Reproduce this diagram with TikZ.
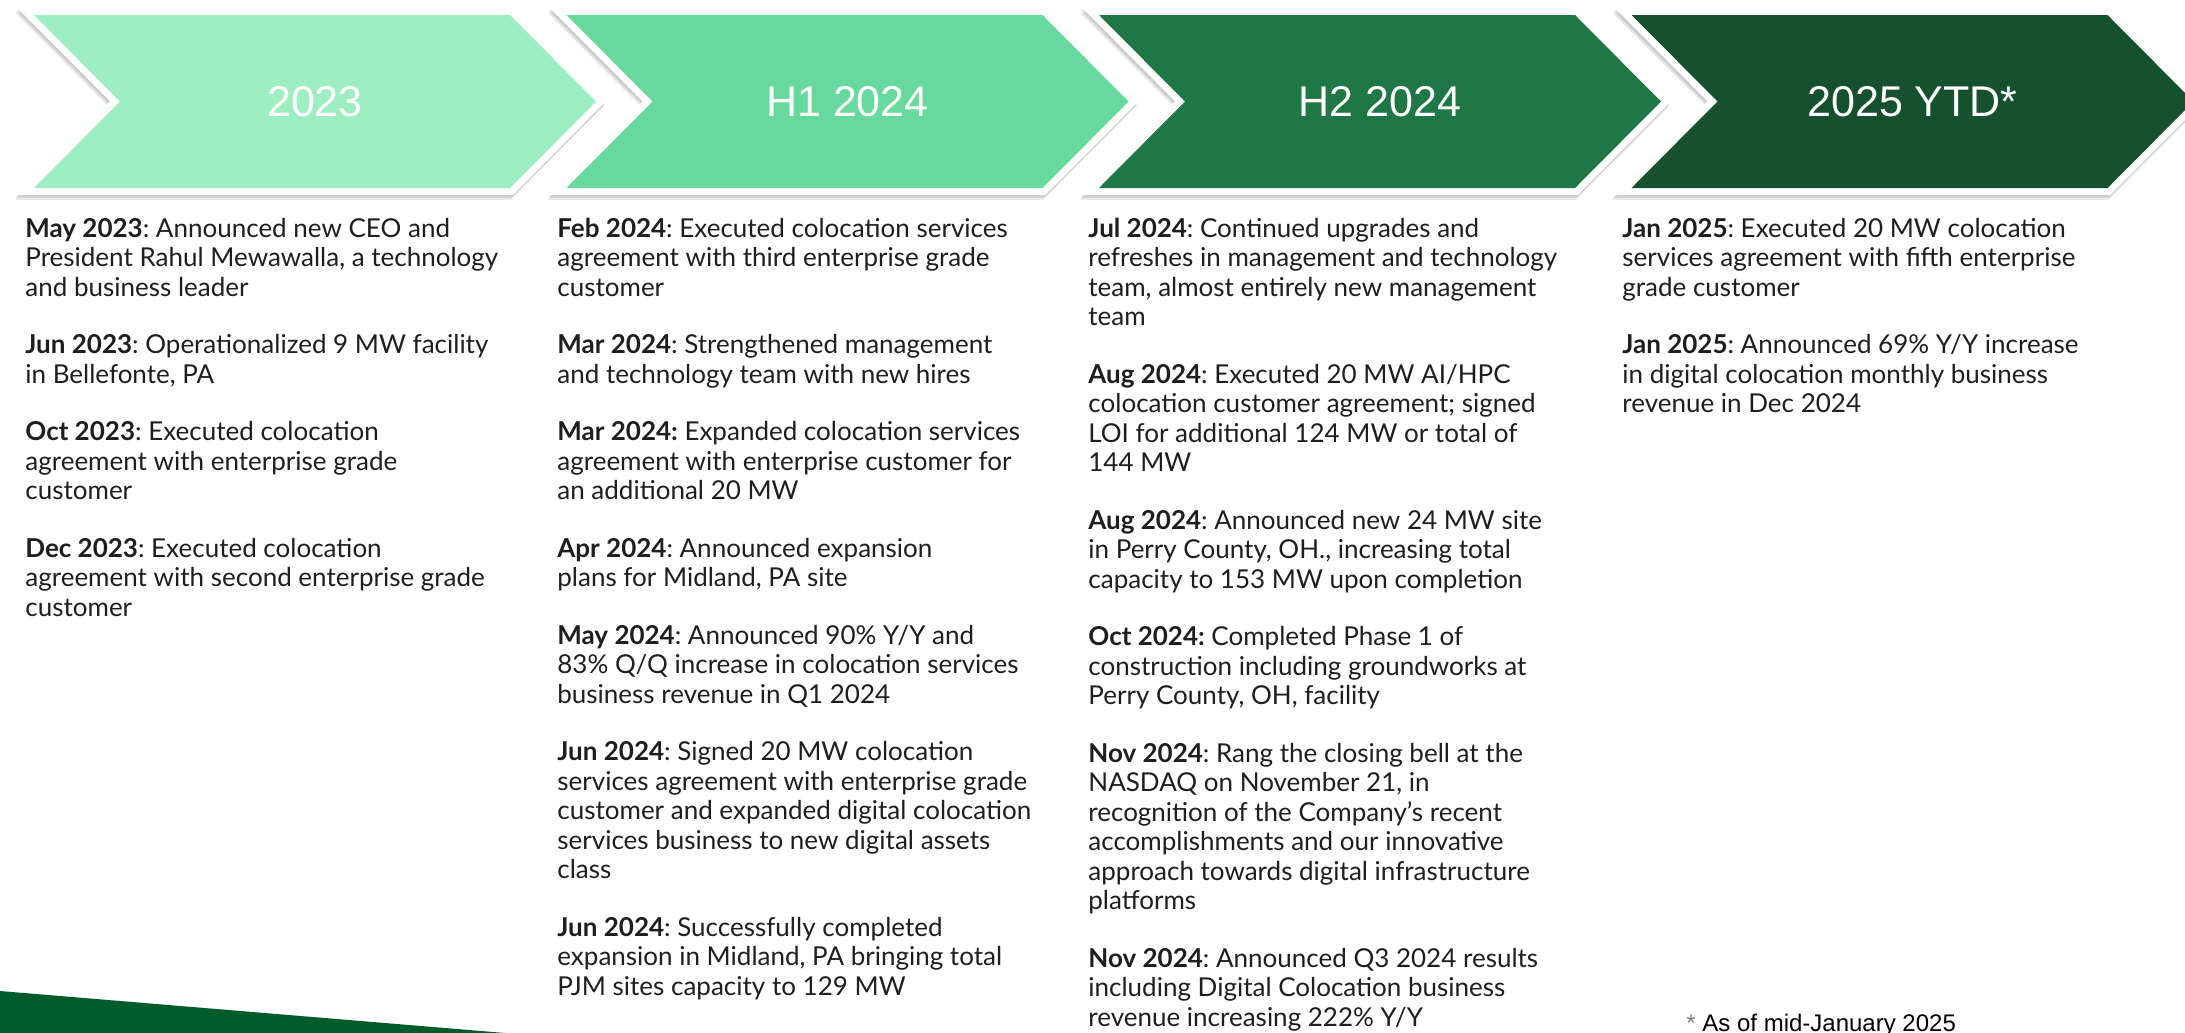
\documentclass[tikz,border=0pt]{standalone}
\usepackage{fontspec}
\setmainfont{Lato}
\newfontfamily\arialf{Liberation Sans}
\definecolor{chA}{HTML}{9DEEC0}
\definecolor{chB}{HTML}{68D99C}
\definecolor{chC}{HTML}{1F7746}
\definecolor{chD}{HTML}{15512F}
\definecolor{txt}{HTML}{1E1E1E}
\definecolor{wedge}{HTML}{005C2A}
\newcommand\colfont{\fontsize{13pt}{14.75pt}\selectfont}
\newenvironment{colbody}{\begin{minipage}[t]{270pt}\colfont\frenchspacing\raggedright\setlength\parindent{0pt}\setlength\parskip{14pt}}{\end{minipage}}
\begin{document}
\begin{tikzpicture}[x=0.5pt,y=-0.5pt,
  colbox/.style={anchor=base west, inner sep=0pt, text=txt},
  ttl/.style={text=white, font=\arialf\fontsize{21.5pt}{24pt}\selectfont, inner sep=0pt},
  chevpath/.style={line join=miter, miter limit=20}]
\useasboundingbox (0,0) rectangle (2185,1033);
\fill[white] (0,0) rectangle (2185,1033);

% chevrons
\foreach \k/\col/\ttltext/\nm in {0/chA/2023/t1, 1/chB/H1 2024/t2, 2/chC/H2 2024/t3, 3/chD/2025 YTD*/t4} {
  \pgfmathsetmacro\L{34+532.5*\k}
  \foreach \s in {1,2,3} {
    \draw[chevpath, line width=7pt, black, opacity=0.08, shift={(-0.7*\s,1.6*\s)}]
      (\L,15) -- ({\L+476},15) -- ({\L+562},101.5) -- ({\L+476},188) -- (\L,188) -- ({\L+86},101.5) -- cycle;
  }
  \draw[chevpath, line width=7pt, white]
    (\L,15) -- ({\L+476},15) -- ({\L+562},101.5) -- ({\L+476},188) -- (\L,188) -- ({\L+86},101.5) -- cycle;
  \fill[\col]
    (\L,15) -- ({\L+476},15) -- ({\L+562},101.5) -- ({\L+476},188) -- (\L,188) -- ({\L+86},101.5) -- cycle;
  \node[ttl] (\nm) at ({\L+281},101.5) {\ttltext};
}

% bottom-left wedge
\fill[wedge] (0,991) -- (505,1033) -- (0,1033) -- cycle;

% column 1
\node[colbox] (col1) at (25,237) {\begin{colbody}
\textbf{May 2023}: Announced new CEO and\\
President Rahul Mewawalla, a technology\\
and business leader\par
\textbf{Jun 2023}: Operationalized 9 MW facility\\
in Bellefonte, PA\par
\textbf{Oct 2023}: Executed colocation\\
agreement with enterprise grade\\
customer\par
\textbf{Dec 2023}: Executed colocation\\
agreement with second enterprise grade\\
customer
\end{colbody}};

% column 2
\node[colbox] (col2) at (557,237) {\begin{colbody}
\textbf{Feb 2024}: Executed colocation services\\
agreement with third enterprise grade\\
customer\par
\textbf{Mar 2024}: Strengthened management\\
and technology team with new hires\par
\textbf{Mar 2024:} Expanded colocation services\\
agreement with enterprise customer for\\
an additional 20 MW\par
\textbf{Apr 2024}: Announced expansion\\
plans for Midland, PA site\par
\textbf{May 2024}: Announced 90\% Y/Y and\\
83\% Q/Q increase in colocation services\\
business revenue in Q1 2024\par
\textbf{Jun 2024}: Signed 20 MW colocation\\
services agreement with enterprise grade\\
customer and expanded digital colocation\\
services business to new digital assets\\
class\par
\textbf{Jun 2024}: Successfully completed\\
expansion in Midland, PA bringing total\\
PJM sites capacity to 129 MW
\end{colbody}};

% column 3
\node[colbox] (col3) at (1088,237) {\begin{colbody}
\textbf{Jul 2024}: Continued upgrades and\\
refreshes in management and technology\\
team, almost entirely new management\\
team\par
\textbf{Aug 2024}: Executed 20 MW AI/HPC\\
colocation customer agreement; signed\\
LOI for additional 124 MW or total of\\
144 MW\par
\textbf{Aug 2024}: Announced new 24 MW site\\
in Perry County, OH., increasing total\\
capacity to 153 MW upon completion\par
\textbf{Oct 2024:} Completed Phase 1 of\\
construction including groundworks at\\
Perry County, OH, facility\par
\textbf{Nov 2024}: Rang the closing bell at the\\
NASDAQ on November 21, in\\
recognition of the Company’s recent\\
accomplishments and our innovative\\
approach towards digital infrastructure\\
platforms\par
\textbf{Nov 2024}: Announced Q3 2024 results\\
including Digital Colocation business\\
revenue increasing 222\% Y/Y
\end{colbody}};

% column 4
\node[colbox] (col4) at (1622,237) {\begin{colbody}
\textbf{Jan 2025}: Executed 20 MW colocation\\
services agreement with fifth enterprise\\
grade customer\par
\textbf{Jan 2025}: Announced 69\% Y/Y increase\\
in digital colocation monthly business\\
revenue in Dec 2024
\end{colbody}};

% footnote
\node[anchor=base west, inner sep=0pt, font=\arialf\fontsize{12pt}{14pt}\selectfont] (fn) at (1686,1031) {\textcolor{gray}{*} As of mid-January 2025};
\end{tikzpicture}
\end{document}
